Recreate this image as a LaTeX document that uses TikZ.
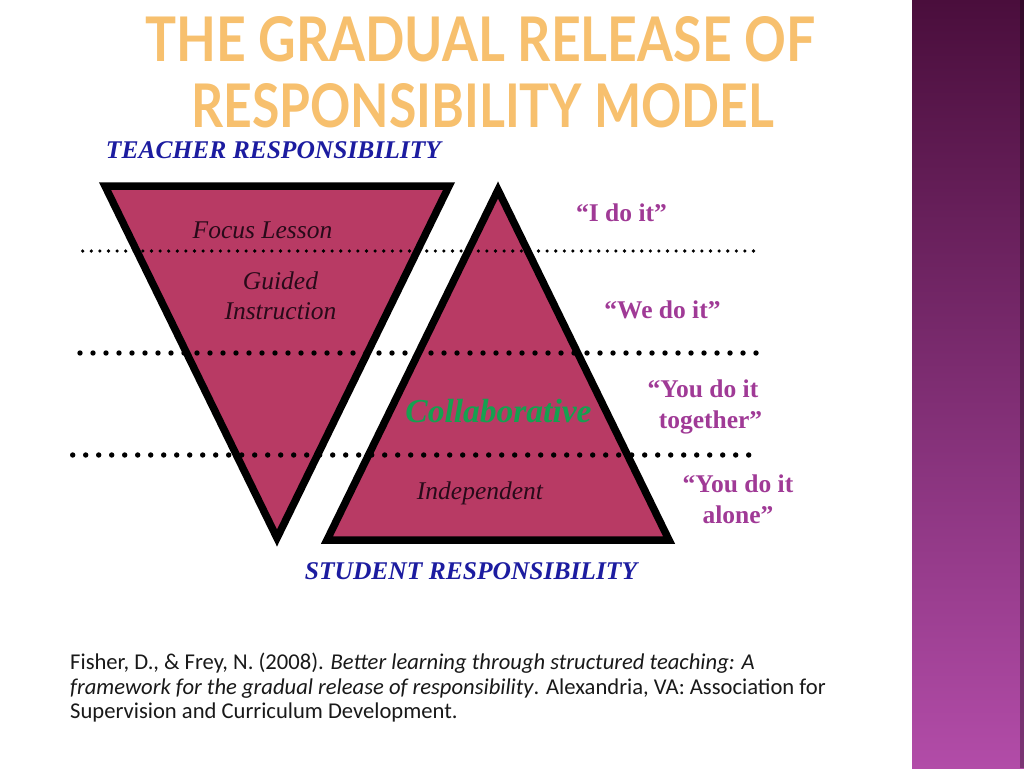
\documentclass[tikz,border=0pt]{standalone}
\usepackage{graphicx}
\usepackage{fontspec}
\setmainfont{Liberation Serif}
\newfontfamily\titlefont{Lato}
\newfontfamily\citefont{Carlito}
\definecolor{trifill}{RGB}{184,58,100}
\definecolor{teacherblue}{RGB}{28,28,160}
\definecolor{saycol}{RGB}{160,58,150}
\definecolor{collgreen}{RGB}{22,160,80}
\definecolor{intext}{RGB}{40,10,25}
\definecolor{titleor}{RGB}{247,192,110}
\definecolor{bartop}{RGB}{74,14,60}
\definecolor{barmid}{RGB}{122,50,114}
\definecolor{barbot}{RGB}{178,76,168}
\begin{document}
\begin{tikzpicture}[x=1pt,y=-1pt,
  tri/.style={fill=trifill, draw=black, line width=7.5pt, line join=miter},
  smalldots/.style={line width=3.6pt, line cap=round, dash pattern=on 0pt off 8.6pt},
  bigdots/.style={line width=5.4pt, line cap=round, dash pattern=on 0pt off 13pt},
  lbl/.style={inner sep=0pt, anchor=base, font=\fontsize{25.5}{30}\selectfont},
  inlbl/.style={lbl, text=intext, font=\fontsize{25.5}{30}\selectfont\itshape},
  resp/.style={lbl, text=teacherblue, font=\fontsize{25.5}{30}\selectfont\bfseries\itshape},
  say/.style={lbl, text=saycol, font=\fontsize{25.5}{30}\selectfont\bfseries},
  cite/.style={inner sep=0pt, anchor=base west, text=black!90, font=\fontsize{22.6}{26}\citefont},
  ttl/.style={inner sep=0pt, anchor=base west, text=titleor}
]
\useasboundingbox (0,0) rectangle (1024,768);
\fill[white] (0,0) rectangle (1024,768);
% right bar
\shade[top color=bartop, middle color=barmid, bottom color=barbot] (912,0) rectangle (1024,768);
\fill[black, opacity=0.3] (1020,0) rectangle (1024,768);
% title
\node[ttl] (t1) at (145,62) {\resizebox{670pt}{45pt}{\titlefont\bfseries THE GRADUAL RELEASE OF}};
\node[ttl] (t2) at (191,127) {\resizebox{583pt}{44pt}{\titlefont\bfseries RESPONSIBILITY MODEL}};
% triangles
\draw[tri] (105,186) -- (449,186) -- (277,538) -- cycle;
\draw[tri] (327,540) -- (669,540) -- (498,190) -- cycle;
% dotted lines
\coordinate (d1a) at (82.7,251); \coordinate (d1b) at (758,251);
\coordinate (d2a) at (80,353); \coordinate (d2b) at (757,353);
\coordinate (d3a) at (72.7,455); \coordinate (d3b) at (750,455);
\draw[smalldots] (d1a) -- (d1b);
\draw[bigdots] (d2a) -- (d2b);
\draw[bigdots] (d3a) -- (d3b);
% labels
\node[resp] (teach) at (273.5,158) {TEACHER RESPONSIBILITY};
\node[resp] (stud) at (471,579) {STUDENT RESPONSIBILITY};
\node[inlbl] (focus) at (262.5,238) {Focus Lesson};
\node[inlbl] (guid1) at (280.5,289) {Guided};
\node[inlbl] (guid2) at (280.5,319) {Instruction};
\node[lbl, text=collgreen, font=\fontsize{33.5}{38}\selectfont\bfseries\itshape] (coll) at (498.5,422) {Collaborative};
\node[inlbl] (indep) at (480,499) {Independent};
\node[say] (s1) at (621.5,221) {“I do it”};
\node[say] (s2) at (662.5,318) {“We do it”};
\node[say] (s3a) at (703,397) {“You do it};
\node[say] (s3b) at (710.5,428) {together”};
\node[say] (s4a) at (738,492) {“You do it};
\node[say] (s4b) at (738,523) {alone”};
% citation
\node[cite] (c1) at (70,669) {Fisher, D., \& Frey, N. (2008). \textit{Better learning through structured teaching: A}};
\node[cite] (c2) at (70,694) {\textit{framework for the gradual release of responsibility}. Alexandria, VA: Association for};
\node[cite] (c3) at (70,718) {Supervision and Curriculum Development.};
\end{tikzpicture}
\end{document}
